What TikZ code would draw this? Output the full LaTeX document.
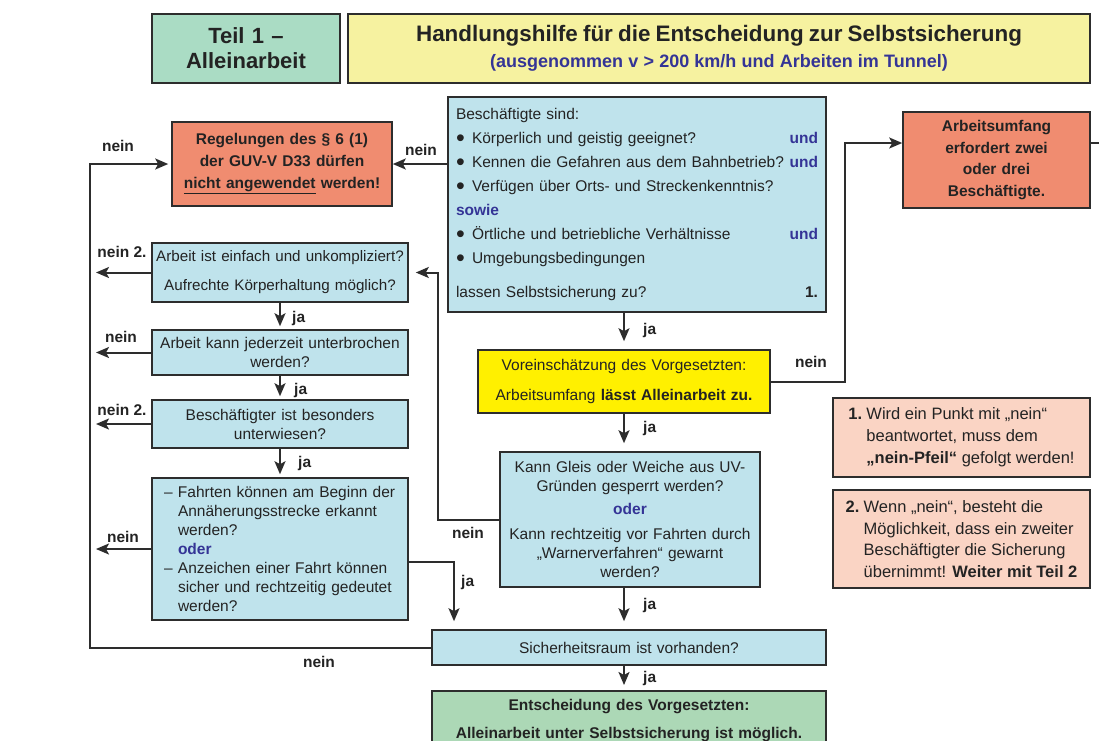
\documentclass[tikz,border=0pt]{standalone}
\usepackage{fontspec}
\setmainfont{Liberation Sans}
\usetikzlibrary{arrows.meta}
\definecolor{hellblau}{RGB}{191,227,236}
\definecolor{lachs}{RGB}{240,140,112}
\definecolor{hellachs}{RGB}{250,212,196}
\definecolor{mint}{RGB}{170,220,196}
\definecolor{blassgelb}{RGB}{246,242,160}
\definecolor{gelb}{RGB}{255,240,0}
\definecolor{gruen}{RGB}{172,216,182}
\definecolor{tinte}{RGB}{52,52,150}
\definecolor{rahmen}{RGB}{45,45,45}
\definecolor{schrift}{RGB}{35,35,35}
\newcommand{\blau}[1]{\textcolor{tinte}{\textbf{#1}}}
\newcommand{\bul}{\makebox[16pt][l]{\raisebox{-2.5pt}[6pt][0pt]{\fontsize{25}{25}\selectfont\textbullet}}}

\begin{document}
\begin{tikzpicture}[x=1pt,y=1pt,yscale=-1,
        box/.style={draw=rahmen,line width=1.6pt,fill=hellblau,text=schrift,inner sep=0pt,align=center,font=\fontsize{15.5}{19}\selectfont},
        fett/.style={font=\fontsize{15.5}{22}\selectfont\bfseries},
        arr/.style={draw=rahmen,line width=2pt,shorten >=5pt,-{Stealth[length=13pt,width=11pt,inset=3pt]}},
        lbl/.style={font=\fontsize{15.5}{18}\selectfont\bfseries,text=schrift,inner sep=0pt}]
        \path[fill=white] (0,0) rectangle (1099,740);
        \useasboundingbox (0,0) rectangle (1099,740);
        
        % Kopf
        \node[box,fill=mint,minimum width=188pt,minimum height=69pt,text width=180pt,font=\fontsize{22}{25}\selectfont\bfseries] (teil) at (246,48.5) {Teil 1 –\\Alleinarbeit};
        \node[box,fill=blassgelb,minimum width=742pt,minimum height=69pt,text width=730pt] (titel) at (719,48.5) {{\fontsize{22.4}{26}\selectfont\bfseries Handlungshilfe für die Entscheidung zur Selbstsicherung}\\[7pt]{\fontsize{18}{22}\selectfont\bfseries\color{tinte}(ausgenommen v > 200 km/h und Arbeiten im Tunnel)}};
        
        % Hauptspalte
        \node[box,minimum width=378pt,minimum height=215pt,text width=362pt,align=left,font=\fontsize{15.5}{24}\selectfont] (besch) at (637,204.5) {Beschäftigte sind:\\
            \bul Körperlich und geistig geeignet?\hfill\blau{und}\\
            \bul Kennen die Gefahren aus dem Bahnbetrieb?\hfill\blau{und}\\
            \bul Verfügen über Orts- und Streckenkenntnis?\\
            \blau{sowie}\\
            \bul Örtliche und betriebliche Verhältnisse\hfill\blau{und}\\
            \bul Umgebungsbedingungen\\[10pt]
            lassen Selbstsicherung zu?\hfill\textbf{1.}};
        \node[box,fill=gelb,minimum width=292pt,minimum height=63pt,text width=284pt] (vorein) at (624,381.5) {Voreinschätzung des Vorgesetzten:\\[11pt]Arbeitsumfang \textbf{lässt Alleinarbeit zu.}};
        \node[box,minimum width=260pt,minimum height=135pt,text width=254pt] (gleis) at (630,519.5) {Kann Gleis oder Weiche aus UV-\\Gründen gesperrt werden?\\[4pt]\blau{oder}\\[6pt]Kann rechtzeitig vor Fahrten durch\\„Warnerverfahren“ gewarnt\\werden?};
        \node[box,minimum width=394pt,minimum height=35pt,text width=380pt] (sicher) at (629,647.5) {Sicherheitsraum ist vorhanden?};
        \node[box,fill=gruen,fett,anchor=north,minimum width=394pt,minimum height=60pt,text width=380pt] (entsch) at (629,690) {Entscheidung des Vorgesetzten:\\[6pt]Alleinarbeit unter Selbstsicherung ist möglich.};
        
        % Ergebnisse
        \node[box,fill=lachs,fett,minimum width=220pt,minimum height=84pt,text width=210pt] (regel) at (282,164) {Regelungen des § 6 (1)\\der GUV-V D33 dürfen\\\underline{nicht angewendet} werden!};
        \node[box,fill=lachs,fett,minimum width=187pt,minimum height=96pt,text width=180pt,font=\fontsize{15.5}{21.5}\selectfont\bfseries] (umfang) at (996.5,160) {Arbeitsumfang\\erfordert zwei\\oder drei\\Beschäftigte.};
        
        % linke Spalte
        \node[box,minimum width=256pt,minimum height=59pt,text width=256pt,font=\fontsize{15.2}{19}\selectfont] (einfach) at (280,272.5) {Arbeit ist einfach und unkompliziert?\\[10pt]Aufrechte Körperhaltung möglich?};
        \node[box,minimum width=256pt,minimum height=45pt,text width=248pt] (jederzeit) at (280,352.5) {Arbeit kann jederzeit unterbrochen\\werden?};
        \node[box,minimum width=256pt,minimum height=48pt,text width=248pt] (besonders) at (280,424) {Beschäftigter ist besonders\\unterwiesen?};
        \node[box,minimum width=256pt,minimum height=142pt,text width=232pt,align=left] (fahrten) at (280,549) {\makebox[14pt][l]{–}Fahrten können am Beginn der\\
            \hspace*{14pt}Annäherungsstrecke erkannt\\
            \hspace*{14pt}werden?\\
            \hspace*{14pt}\blau{oder}\\
            \makebox[14pt][l]{–}Anzeichen einer Fahrt können\\
            \hspace*{14pt}sicher und rechtzeitig gedeutet\\
            \hspace*{14pt}werden?};
        
        % Hinweise
        \node[box,fill=hellachs,minimum width=257pt,minimum height=79pt,align=left,font=\fontsize{16.5}{22}\selectfont] (hinweis1) at (961.5,437.5) {\makebox[18pt][l]{\textbf{1.}}Wird ein Punkt mit „nein“\\
            \hspace*{18pt}beantwortet, muss dem\\
            \hspace*{18pt}\textbf{„nein-Pfeil“} gefolgt werden!};
        \node[box,fill=hellachs,minimum width=257pt,minimum height=98pt,align=left,font=\fontsize{16.5}{21.7}\selectfont] (hinweis2) at (961.5,539) {\makebox[18pt][l]{\textbf{2.}}Wenn „nein“, besteht die\\
            \hspace*{18pt}Möglichkeit, dass ein zweiter\\
            \hspace*{18pt}Beschäftigter die Sicherung\\
            \hspace*{18pt}übernimmt! \textbf{Weiter mit Teil 2}};
        
        % Eckpunkte
        \coordinate (links) at (90,0);
        \coordinate (spitze) at (96,0);
        \coordinate (mitte) at (438,0);
        \coordinate (rechts) at (845,0);
        \coordinate (jaweg) at (454,0);
        \coordinate (raus) at (1099,143);
        
        % Pfeile
        \draw[arr,shorten >=0pt] (besch.west |- regel.east) -- (regel.east);
        \draw[arr,shorten >=3pt] (sicher.west) -- (sicher.west -| links) |- (regel.west);
        \draw[arr,shorten >=0pt] (vorein.east) -- (vorein.east -| rechts) |- (umfang.west |- raus);
        \draw[draw=rahmen,line width=2pt] (umfang.east |- raus) -- (raus);
        \draw[arr,shorten >=7pt] (gleis.west) -- (gleis.west -| mitte) |- (einfach.east);
        \draw[arr,shorten >=8pt] ([yshift=13pt]fahrten.east) -| (sicher.north -| jaweg);
        \draw[arr,shorten >=8pt] (besch.south -| vorein) -- (vorein.north);
        \draw[arr,shorten >=8pt] (vorein.south) -- (gleis.north -| vorein);
        \draw[arr,shorten >=8pt] (gleis.south -| vorein) -- (sicher.north -| vorein);
        \draw[arr] (sicher.south -| vorein) -- (entsch.north -| vorein);
        \draw[arr,shorten >=3pt] (einfach.south) -- (jederzeit.north);
        \draw[arr,shorten >=3pt] (jederzeit.south) -- (besonders.north);
        \draw[arr,shorten >=3pt] (besonders.south) -- (fahrten.north);
        \draw[arr,shorten >=0pt] (einfach.west) -- (einfach.west -| spitze);
        \draw[arr,shorten >=0pt] (jederzeit.west) -- (jederzeit.west -| spitze);
        \draw[arr,shorten >=0pt] (besonders.west) -- (besonders.west -| spitze);
        \draw[arr,shorten >=0pt] (fahrten.west) -- (fahrten.west -| spitze);
        
        % Beschriftungen
        \node[lbl] (n1) at (421,150) {nein};
        \node[lbl] (n2) at (118,146) {nein};
        \node[lbl] (n3) at (319,662) {nein};
        \node[lbl] (n4) at (811,362) {nein};
        \node[lbl] (n5) at (468,533) {nein};
        \node[lbl] (n6) at (122,252) {nein 2.};
        \node[lbl] (n7) at (121,337) {nein};
        \node[lbl] (n8) at (122,410) {nein 2.};
        \node[lbl] (n9) at (123,537) {nein};
        \node[lbl,anchor=west] (j1) at (643,330) {ja};
        \node[lbl,anchor=west] (j2) at (643,428) {ja};
        \node[lbl,anchor=west] (j3) at (643,605) {ja};
        \node[lbl,anchor=west] (j4) at (643,678) {ja};
        \node[lbl,anchor=west] (j5) at (461,582) {ja};
        \node[lbl,anchor=west] (j6) at (292,318) {ja};
        \node[lbl,anchor=west] (j7) at (294,390) {ja};
        \node[lbl,anchor=west] (j8) at (298,463) {ja};
\end{tikzpicture}
\end{document}
